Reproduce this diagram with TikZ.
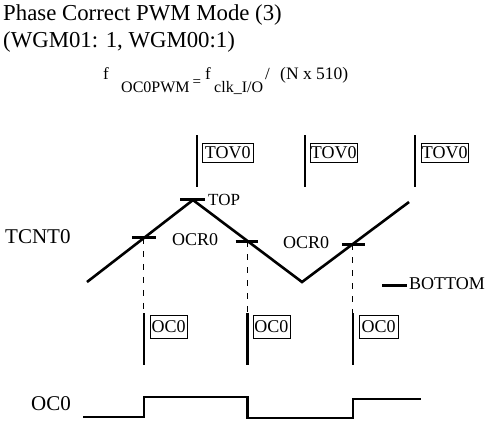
\documentclass[tikz,border=0pt]{standalone}
\usepackage{fontspec}
\setmainfont{Liberation Serif}
\usetikzlibrary{calc}
\begin{document}
\begin{tikzpicture}[x=1pt,y=-1pt,
  fsz/.style={font=\fontsize{#1}{#1}\selectfont},
  txt/.style={fsz=#1, inner sep=0pt, anchor=base west},
  wave/.style={line width=2.6pt},
  levelmark/.style={line width=3pt},
  flag/.style={line width=2.6pt},
  guide/.style={line width=0.9pt, dash pattern=on 6pt off 7pt},
  evbox/.style={draw, line width=0.6pt, fsz=18, inner sep=0pt,
                anchor=north west, minimum height=#1},
]
\useasboundingbox (0,0) rectangle (486,432);

% heading
\node[txt=22.8] (title1) at (3,20.5) {Phase Correct PWM Mode (3)};
\node[txt=22.8] (title2) at (3,47.5) {(WGM01: 1, WGM00:1)};

% frequency formula
\node[txt=17] (fa) at (103,79) {f};
\node[txt=16] (fb) at (121,92) {OC0PWM};
\node[txt=15] (fc) at (192.5,86) {=};
\node[txt=17] (fd) at (205,79) {f};
\node[txt=16] (fe) at (214,92) {clk\_I/O};
\node[txt=17] (ff) at (265,79) {/};
\node[txt=17.5] (fg) at (280,79) {(N x 510)};

% counter waveform (triangle)
\coordinate (s)  at (87,282);
\coordinate (pk) at (193,200);
\coordinate (v)  at (302,282);
\coordinate (e)  at (409,202);
\draw[wave] (s) -- (pk) -- (v) -- (e);

% compare-match crossings
\coordinate (c1) at ($(s)!0.537!(pk)$);
\coordinate (c2) at ($(pk)!0.5!(v)$);
\coordinate (c3) at ($(v)!0.475!(e)$);

% level marks
\draw[levelmark] ($(pk)+(-13,-1)$) -- ($(pk)+(12,-1)$);
\draw[levelmark] ($(c1)+(-12,0)$) -- ($(c1)+(12,0)$);
\draw[levelmark] ($(c2)+(-12,0)$) -- ($(c2)+(10,0)$);
\draw[levelmark] ($(c3)+(-11,0)$) -- ($(c3)+(12,0)$);
\coordinate (bl) at (382,285);
\coordinate (br) at (407,285);
\draw[levelmark] (bl) -- (br);

\node[txt=17] (top) at (208,205) {TOP};
\node[txt=18] (ocr1) at (172,245) {OCR0};
\node[txt=18] (ocr2) at (283,248) {OCR0};
\node[txt=18] (bottom) at (409,289.5) {BOTTOM};
\node[txt=21] (tcnt) at (5,243) {TCNT0};

% overflow flags
\coordinate (tvB) at (0,187);
\foreach \x/\n in {197/1,305/2,415/3} {
  \coordinate (tv\n) at (\x,135);
  \draw[flag] (tv\n) -- (tv\n |- tvB);
}
\node[evbox=19, minimum width=51] (tov1) at ($(tv1)+(5,8)$) {TOV0};
\node[evbox=19, minimum width=47] (tov2) at ($(tv2)+(5,8)$) {TOV0};
\node[evbox=19, minimum width=47] (tov3) at ($(tv3)+(6,8)$) {TOV0};

% output compare flags
\coordinate (ocT) at (0,313);
\coordinate (ocB) at (0,365);
\foreach \n in {1,2,3} {
  \draw[guide] (c\n) -- (c\n |- ocT);
  \draw[flag] (c\n |- ocT) -- (c\n |- ocB);
}
\node[evbox=23, minimum width=37] (oc1) at ($(c1 |- ocT)+(6,2)$) {OC0};
\node[evbox=23, minimum width=37] (oc2) at ($(c2 |- ocT)+(5,2)$) {OC0};
\node[evbox=23, minimum width=39] (oc3) at ($(c3 |- ocT)+(6,2)$) {OC0};

% output pin waveform
\node[txt=21] (oclbl) at (31,410) {OC0};
\coordinate (w0) at (83,417);
\coordinate (w1) at (421,399);
\draw[wave] (w0) -- (c1 |- w0) -- (c1 |- 0,397) -- (c2 |- 0,397)
  -- (c2 |- 0,418) -- (c3 |- 0,418) -- (c3 |- w1) -- (w1);
\end{tikzpicture}
\end{document}
